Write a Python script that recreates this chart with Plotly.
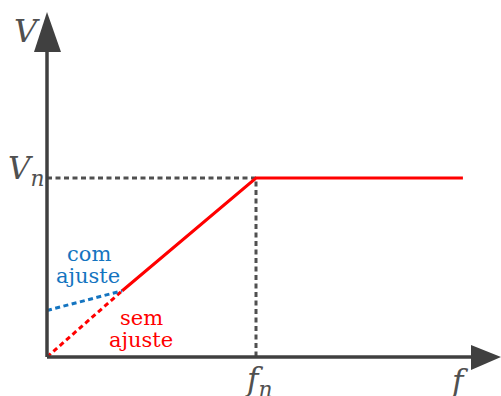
import plotly.graph_objects as go

# Normalised quantities: frequency f and voltage V (fn = 1, Vn = 1)
f_nominal = 1.0
v_nominal = 1.0
f_knee = 0.36
v_knee = 0.37
f_end = 1.99
v_boost = 0.26          # start voltage with boost ("com ajuste")

# Main V/f characteristic (solid red)
f_main = [f_knee, f_nominal, f_end]
v_main = [v_knee, v_nominal, v_nominal]
# Low-frequency segment without boost (red dotted)
f_sem = [0.0, f_knee]
v_sem = [0.0, v_knee]
# Low-frequency segment with boost (blue dotted)
f_com = [0.0, f_knee]
v_com = [v_boost, v_knee]

W, H = 501, 396
x0_px, y0_px = 47, 357          # origin in pixels
sx, sy = 209.0, 179.0           # pixels per unit

x_range = [-x0_px / sx, (W - x0_px) / sx]
y_range = [(y0_px - H) / sy, y0_px / sy]

def px_x(p):
    return (p - x0_px) / sx

def px_y(p):
    return (y0_px - p) / sy

AXIS = "#404040"
GRAY = "#505050"
RED = "#ff0000"
BLUE = "#1474c0"
SERIF = "DejaVu Serif"
DASH = "5px,3.5px"

fig = go.Figure()

# reference guides at Vn and fn
fig.add_trace(go.Scatter(x=[0, f_nominal, f_nominal], y=[v_nominal, v_nominal, 0],
                         mode="lines", line=dict(color=GRAY, width=3, dash=DASH),
                         hoverinfo="skip"))
fig.add_trace(go.Scatter(x=f_sem, y=v_sem, mode="lines",
                         line=dict(color=RED, width=3, dash=DASH), hoverinfo="skip"))
fig.add_trace(go.Scatter(x=f_com, y=v_com, mode="lines",
                         line=dict(color=BLUE, width=3, dash=DASH), hoverinfo="skip"))
fig.add_trace(go.Scatter(x=f_main, y=v_main, mode="lines",
                         line=dict(color=RED, width=3), hoverinfo="skip"))

# axes with arrow heads
shapes = [
    dict(type="line", x0=0, y0=0, x1=px_x(475), y1=0, line=dict(color=AXIS, width=3.5)),
    dict(type="line", x0=0, y0=0, x1=0, y1=px_y(48), line=dict(color=AXIS, width=3.5)),
    dict(type="path", path=f"M {px_x(501)} 0 L {px_x(471)} {px_y(345)} L {px_x(471)} {px_y(370)} Z",
         fillcolor=AXIS, line=dict(width=0)),
    dict(type="path", path=f"M 0 {px_y(12)} L {px_x(34)} {px_y(52)} L {px_x(61)} {px_y(52)} Z",
         fillcolor=AXIS, line=dict(width=0)),
]

def label(xp, yp, text, size, color):
    return dict(x=px_x(xp), y=px_y(yp), text=text, showarrow=False,
                xanchor="center", yanchor="middle",
                font=dict(family=SERIF, size=size, color=color))

annotations = [
    label(27, 31, "<i>V</i>", 32, GRAY),
    label(26, 170, "<i>V<sub>n</sub></i>", 31, GRAY),
    label(258, 381, "<i>f<sub>n</sub></i>", 31, GRAY),
    label(459, 381, "<i>f</i>", 31, GRAY),
    label(89, 254, "com", 21, BLUE),
    label(88, 276, "ajuste", 21, BLUE),
    label(141, 318, "sem", 21, RED),
    label(141, 340, "ajuste", 21, RED),
]

fig.update_layout(
    width=W, height=H, margin=dict(l=0, r=0, t=0, b=0),
    paper_bgcolor="white", plot_bgcolor="white", showlegend=False,
    xaxis=dict(range=x_range, visible=False, fixedrange=True),
    yaxis=dict(range=y_range, visible=False, fixedrange=True),
    shapes=shapes, annotations=annotations,
)

fig.write_html("out.html", config={"displayModeBar": False})
